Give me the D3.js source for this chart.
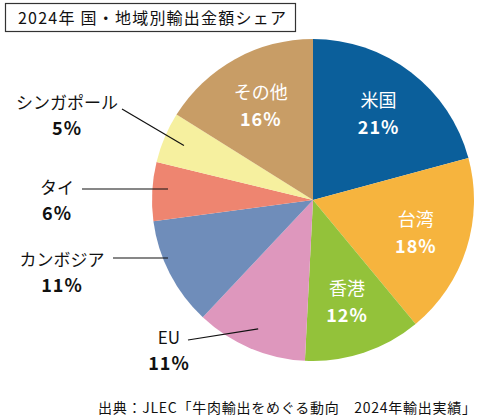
<!DOCTYPE html>
<html>
<head>
<meta charset="utf-8">
<script src="https://cdn.jsdelivr.net/npm/d3@7"></script>
<style>
  body { margin: 0; background: #fff; }
  text { font-family: "Noto Sans CJK JP", "Noto Sans", sans-serif; }
</style>
</head>
<body>
<svg id="chart"></svg>
<script>
// 2024 export share by country/region (percent)
const categories = ["米国", "台湾", "香港", "EU", "カンボジア", "タイ", "シンガポール", "その他"];
const shares = [20.8, 18.2, 11.8, 11.2, 10.9, 5.9, 5.1, 16.1];
const colors = ["#0b5f9b", "#f6b43e", "#93c23a", "#de97bd", "#6f8dba", "#ee8570", "#f6f09f", "#c89d66"];
const insideLabel = [true, true, true, false, false, false, false, true];

const title = "2024年 国・地域別輸出金額シェア";
const source = "出典：JLEC「牛肉輸出をめぐる動向　2024年輸出実績」";

window.addEventListener('load', e => {
    drawPie();
});

function drawPie() {
    let width = 483;
    let height = 418;
    let cx = 313;
    let cy = 200;
    let radius = 161;

    let svg = d3.select("#chart")
                .attr("width", width)
                .attr("height", height);

    // title box
    svg.append("rect")
       .attr("x", 5.5).attr("y", 3.5)
       .attr("width", 290).attr("height", 28)
       .attr("fill", "none")
       .attr("stroke", "#333")
       .attr("stroke-width", 1.2);
    svg.append("text")
       .attr("x", 18).attr("y", 24)
       .attr("font-size", 16)
       .attr("textLength", 268)
       .attr("fill", "#111")
       .text(title);

    let data = categories.map((c, i) => ({ name: c, value: shares[i], color: colors[i], inside: insideLabel[i] }));

    let pie = d3.pie().sort(null).value(d => d.value);
    let arcs = pie(data);
    let arc = d3.arc().innerRadius(0).outerRadius(radius);

    let g = svg.append("g").attr("transform", "translate(" + cx + "," + cy + ")");

    g.selectAll("path")
     .data(arcs)
     .enter()
     .append("path")
     .attr("d", arc)
     .attr("fill", d => d.data.color);

    // labels inside the big slices
    let inner = d3.arc().innerRadius(radius * 0.67).outerRadius(radius * 0.67);
    let inLabels = g.selectAll(".in")
                    .data(arcs.filter(d => d.data.inside))
                    .enter()
                    .append("g")
                    .attr("transform", d => "translate(" + inner.centroid(d) + ")");
    inLabels.append("text")
            .attr("text-anchor", "middle")
            .attr("y", -7)
            .attr("font-size", 18)
            .attr("fill", "#fff")
            .text(d => d.data.name);
    inLabels.append("text")
            .attr("text-anchor", "middle")
            .attr("y", 20)
            .attr("font-size", 18)
            .attr("font-weight", "bold")
            .attr("letter-spacing", 1)
            .attr("fill", "#fff")
            .text(d => Math.round(d.data.value) + "%");

    // outside labels with leader lines
    let outside = {
        "EU":         { tx: 169, ty: 338, x1: 188, y1: 340, r: 0.87 },
        "カンボジア": { tx: 62,  ty: 260, x1: 113, y1: 258, r: 0.97 },
        "タイ":       { tx: 57,  ty: 188, x1: 82,  y1: 189, r: 0.97 },
        "シンガポール": { tx: 67, ty: 103, x1: 122, y1: 109, r: 0.87 }
    };
    let outArcs = arcs.filter(d => !d.data.inside);
    outArcs.forEach(d => {
        let o = outside[d.data.name];
        let a = (d.startAngle + d.endAngle) / 2;
        let px = cx + Math.sin(a) * radius * o.r;
        let py = cy - Math.cos(a) * radius * o.r;
        if (d.data.name === "タイ" || d.data.name === "カンボジア") {
            px = 168;
            py = o.y1;
        }
        svg.append("line")
           .attr("x1", o.x1).attr("y1", o.y1)
           .attr("x2", px).attr("y2", py)
           .attr("stroke", "#111")
           .attr("stroke-width", 1.2);
        svg.append("text")
           .attr("x", o.tx).attr("y", o.ty + 6)
           .attr("text-anchor", "middle")
           .attr("font-size", 17)
           .attr("fill", "#111")
           .text(d.data.name);
        svg.append("text")
           .attr("x", o.tx).attr("y", o.ty + 32)
           .attr("text-anchor", "middle")
           .attr("font-size", 18)
           .attr("font-weight", "bold")
           .attr("letter-spacing", 1)
           .attr("fill", "#111")
           .text(Math.round(d.data.value) + "%");
    });

    svg.append("text")
       .attr("x", 98).attr("y", 413)
       .attr("font-size", 14)
       .attr("textLength", 378)
       .attr("fill", "#111")
       .text(source);
}
</script>
</body>
</html>
